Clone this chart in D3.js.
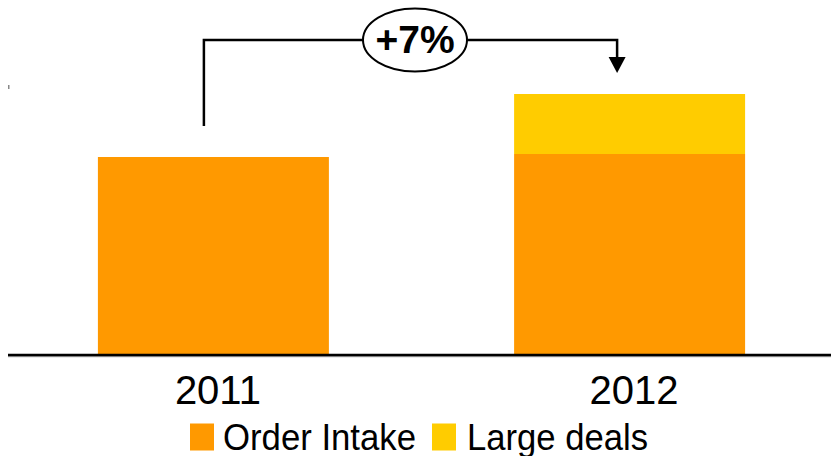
<!DOCTYPE html>
<html>
<head>
<meta charset="utf-8">
<script src="https://cdn.jsdelivr.net/npm/d3@7"></script>
<style>
  body { margin: 0; background: #fff; }
  svg { display: block; }
</style>
</head>
<body>
<div id="chart"></div>
<script>
// chart data (arbitrary units)
const years = ["2011", "2012"];
const orderIntake = [198, 201];
const largeDeals = [0, 60];
const seriesNames = ["Order Intake", "Large deals"];
const seriesColors = ["#ff9900", "#ffcc00"];
const growthLabel = "+7%";

const width = 831, height = 456;
const baseY = 355;
const font = "'Liberation Sans', Arial, sans-serif";

const svg = d3.select("#chart")
  .append("svg")
  .attr("width", width)
  .attr("height", height);

// scales
const x = d3.scaleBand()
  .domain(years)
  .range([5.5, 837.5])
  .paddingInner(0.445)
  .paddingOuter(0.222);

const y = d3.scaleLinear()
  .domain([0, 300])
  .range([baseY, baseY - 300]);

// stacked data
const stackData = years.map((yr, i) => ({year: yr, "Order Intake": orderIntake[i], "Large deals": largeDeals[i]}));
const stacked = d3.stack().keys(seriesNames)(stackData);

svg.append("g")
  .selectAll("g")
  .data(stacked)
  .enter()
  .append("g")
  .attr("fill", (d, i) => seriesColors[i])
  .selectAll("rect")
  .data(d => d)
  .enter()
  .append("rect")
  .attr("x", d => x(d.data.year))
  .attr("y", d => y(d[1]))
  .attr("width", x.bandwidth())
  .attr("height", d => Math.max(0, y(d[0]) - y(d[1])) + (d[0] === 0 ? 1.5 : 0));

// baseline
svg.append("line")
  .attr("x1", 8).attr("x2", width)
  .attr("y1", baseY + 1.5).attr("y2", baseY + 1.5)
  .attr("stroke", "#aaa").attr("stroke-width", 1.5);
svg.append("line")
  .attr("x1", 8).attr("x2", width)
  .attr("y1", baseY).attr("y2", baseY)
  .attr("stroke", "#000").attr("stroke-width", 2.5);

// small leftover y-axis mark
svg.append("rect")
  .attr("x", 8).attr("y", y(270)).attr("width", 1.5).attr("height", 4)
  .attr("fill", "#888");

// year labels
svg.append("g")
  .selectAll("text")
  .data(years)
  .enter()
  .append("text")
  .attr("x", d => x(d) + x.bandwidth() / 2 + 4.5)
  .attr("y", 404)
  .attr("text-anchor", "middle")
  .style("font-family", font)
  .style("font-size", "40px")
  .text(d => d);

// growth bracket
const x0 = x(years[0]) + x.bandwidth() / 2 - 9.5;
const x1 = x(years[1]) + x.bandwidth() / 2 - 12.5;
const topY = 40;
svg.append("path")
  .attr("d", `M${x0},${y(229)} V${topY} H${x1} V${58}`)
  .attr("fill", "none")
  .attr("stroke", "#000")
  .attr("stroke-width", 2.5);
svg.append("path")
  .attr("d", `M${x1 - 8.5},57 L${x1 + 8.5},57 L${x1},73 Z`)
  .attr("fill", "#000");

const cx = 415;
svg.append("ellipse")
  .attr("cx", cx).attr("cy", topY)
  .attr("rx", 52).attr("ry", 31.5)
  .attr("fill", "#fff")
  .attr("stroke", "#000")
  .attr("stroke-width", 2);
svg.append("text")
  .attr("x", cx).attr("y", 53)
  .attr("text-anchor", "middle")
  .style("font-family", font)
  .style("font-weight", "bold")
  .style("font-size", "39px")
  .text(growthLabel);

// legend
const legendX = [190, 432];
const legendW = [193, 181];
const legend = svg.append("g")
  .selectAll("g")
  .data(seriesNames)
  .enter()
  .append("g")
  .attr("transform", (d, i) => "translate(" + legendX[i] + ",423.5)");
legend.append("rect")
  .attr("width", 24).attr("height", 27)
  .attr("fill", (d, i) => seriesColors[i]);
legend.append("text")
  .attr("x", (d, i) => i === 0 ? 33 : 35)
  .attr("y", 26)
  .attr("textLength", (d, i) => legendW[i])
  .attr("lengthAdjust", "spacingAndGlyphs")
  .style("font-family", font)
  .style("font-size", "36px")
  .text(d => d);
</script>
</body>
</html>
